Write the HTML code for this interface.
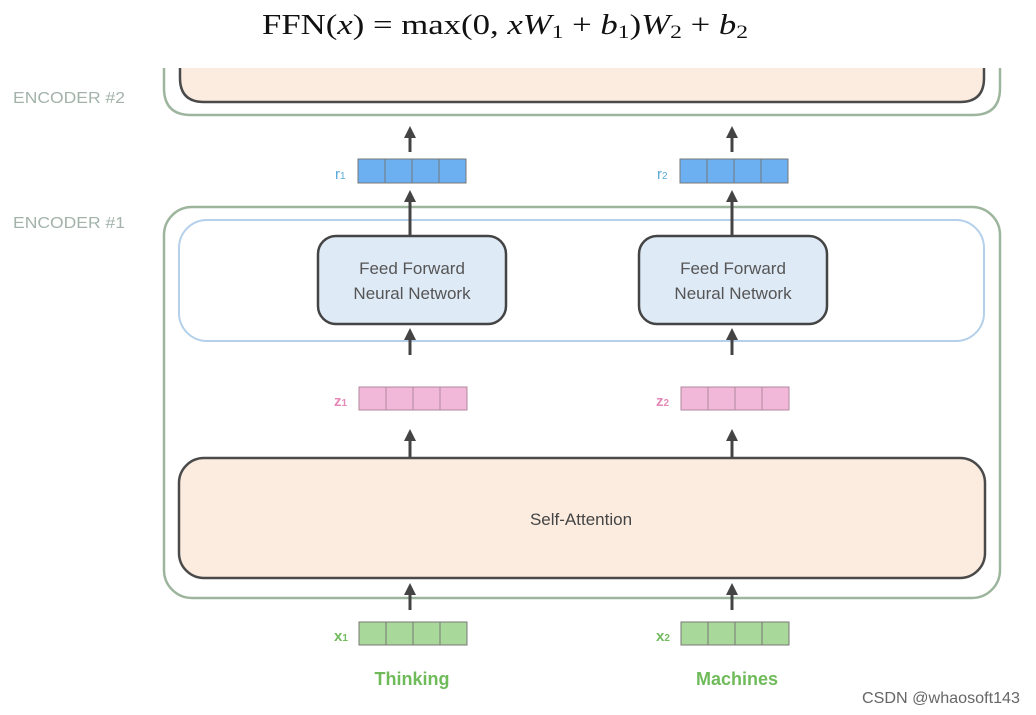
<!DOCTYPE html>
<html><head><meta charset="utf-8"><style>
html,body{margin:0;padding:0;background:#fff;width:1036px;height:715px;overflow:hidden}
</style></head><body>
<svg width="1036" height="715" viewBox="0 0 1036 715" xmlns="http://www.w3.org/2000/svg" font-family="Liberation Sans, DejaVu Sans, sans-serif">
<!-- formula -->
<text x="262" y="34" textLength="486" lengthAdjust="spacingAndGlyphs" font-family="Liberation Serif, DejaVu Serif, serif" font-size="28" fill="#111">FFN(<tspan font-style="italic">x</tspan>) = max(0, <tspan font-style="italic">xW</tspan><tspan font-size="19" dy="4">1</tspan><tspan dy="-4"> + </tspan><tspan font-style="italic">b</tspan><tspan font-size="19" dy="4">1</tspan><tspan dy="-4">)</tspan><tspan font-style="italic">W</tspan><tspan font-size="19" dy="4">2</tspan><tspan dy="-4"> + </tspan><tspan font-style="italic">b</tspan><tspan font-size="19" dy="4">2</tspan></text>

<!-- encoder 2 -->
<path d="M164 68 V88 Q164 115 191 115 H973 Q1000 115 1000 88 V68" fill="none" stroke="#9db59d" stroke-width="2.5"/>
<path d="M180 68 V78 Q180 102 204 102 H960 Q984 102 984 78 V68" fill="#fcece0" stroke="#4a4a4a" stroke-width="2.5"/>
<text x="13" y="103" font-size="16" textLength="112" lengthAdjust="spacingAndGlyphs" fill="#a3b3aa">ENCODER #2</text>
<text x="13" y="228" font-size="16" textLength="112" lengthAdjust="spacingAndGlyphs" fill="#a3b3aa">ENCODER #1</text>

<!-- encoder 1 -->
<rect x="164" y="207" width="836" height="391" rx="28" fill="#fff" stroke="#9db59d" stroke-width="2.5"/>
<rect x="179" y="220" width="805" height="121" rx="28" fill="#fff" stroke="#b4d0ea" stroke-width="2"/>
<rect x="179" y="458" width="806" height="120" rx="25" fill="#fcece0" stroke="#4a4a4a" stroke-width="2.5"/>
<text x="581" y="525" text-anchor="middle" font-size="17" fill="#444">Self-Attention</text>

<!-- FF boxes -->
<rect x="318" y="236" width="188" height="88" rx="18" fill="#dfeaf7" stroke="#444" stroke-width="2.5"/>
<text x="412" y="274" text-anchor="middle" font-size="17" fill="#555">Feed Forward</text>
<text x="412" y="299" text-anchor="middle" font-size="17" fill="#555">Neural Network</text>
<rect x="639" y="236" width="188" height="88" rx="18" fill="#dfeaf7" stroke="#444" stroke-width="2.5"/>
<text x="733" y="274" text-anchor="middle" font-size="17" fill="#555">Feed Forward</text>
<text x="733" y="299" text-anchor="middle" font-size="17" fill="#555">Neural Network</text>

<!-- arrows -->
<g stroke="#444" stroke-width="3" fill="#444">
<line x1="410" y1="152" x2="410" y2="134"/><path d="M404 138 L410 126 L416 138Z" stroke="none"/>
<line x1="410" y1="235" x2="410" y2="198"/><path d="M404 202 L410 190 L416 202Z" stroke="none"/>
<line x1="410" y1="355" x2="410" y2="336"/><path d="M404 340 L410 328 L416 340Z" stroke="none"/>
<line x1="410" y1="457" x2="410" y2="437"/><path d="M404 441 L410 429 L416 441Z" stroke="none"/>
<line x1="410" y1="610" x2="410" y2="591"/><path d="M404 595 L410 583 L416 595Z" stroke="none"/>
<line x1="732" y1="152" x2="732" y2="134"/><path d="M726 138 L732 126 L738 138Z" stroke="none"/>
<line x1="732" y1="235" x2="732" y2="198"/><path d="M726 202 L732 190 L738 202Z" stroke="none"/>
<line x1="732" y1="355" x2="732" y2="336"/><path d="M726 340 L732 328 L738 340Z" stroke="none"/>
<line x1="732" y1="457" x2="732" y2="437"/><path d="M726 441 L732 429 L738 441Z" stroke="none"/>
<line x1="732" y1="610" x2="732" y2="591"/><path d="M726 595 L732 583 L738 595Z" stroke="none"/>
</g>

<!-- vectors -->
<g stroke="#777" stroke-width="1">
<g fill="#6cb0f2">
<rect x="358" y="159" width="27" height="24"/><rect x="385" y="159" width="27" height="24"/><rect x="412" y="159" width="27" height="24"/><rect x="439" y="159" width="27" height="24"/>
<rect x="680" y="159" width="27" height="24"/><rect x="707" y="159" width="27" height="24"/><rect x="734" y="159" width="27" height="24"/><rect x="761" y="159" width="27" height="24"/>
</g>
<g fill="#f2b8da" stroke="#b08a9c">
<rect x="359" y="387" width="27" height="23"/><rect x="386" y="387" width="27" height="23"/><rect x="413" y="387" width="27" height="23"/><rect x="440" y="387" width="27" height="23"/>
<rect x="681" y="387" width="27" height="23"/><rect x="708" y="387" width="27" height="23"/><rect x="735" y="387" width="27" height="23"/><rect x="762" y="387" width="27" height="23"/>
</g>
<g fill="#a8d99a">
<rect x="359" y="622" width="27" height="23"/><rect x="386" y="622" width="27" height="23"/><rect x="413" y="622" width="27" height="23"/><rect x="440" y="622" width="27" height="23"/>
<rect x="681" y="622" width="27" height="23"/><rect x="708" y="622" width="27" height="23"/><rect x="735" y="622" width="27" height="23"/><rect x="762" y="622" width="27" height="23"/>
</g>
</g>
<text x="335" y="179" font-size="15" fill="#5aa8d8">r<tspan font-size="10">1</tspan></text>
<text x="657" y="179" font-size="15" fill="#5aa8d8">r<tspan font-size="10">2</tspan></text>
<text x="334" y="406" font-size="15" fill="#e58ab8" font-weight="bold">z<tspan font-size="10">1</tspan></text>
<text x="656" y="406" font-size="15" fill="#e58ab8" font-weight="bold">z<tspan font-size="10">2</tspan></text>
<text x="334" y="641" font-size="15" fill="#72bb5e" font-weight="bold">x<tspan font-size="10">1</tspan></text>
<text x="656" y="641" font-size="15" fill="#72bb5e" font-weight="bold">x<tspan font-size="10">2</tspan></text>
<text x="412" y="685" text-anchor="middle" font-size="18" font-weight="bold" fill="#6fbb5a">Thinking</text>
<text x="737" y="685" text-anchor="middle" font-size="18" font-weight="bold" fill="#6fbb5a">Machines</text>
<text x="862" y="703" font-size="16" textLength="158" lengthAdjust="spacingAndGlyphs" fill="#666">CSDN @whaosoft143</text>
</svg>
</body></html>
